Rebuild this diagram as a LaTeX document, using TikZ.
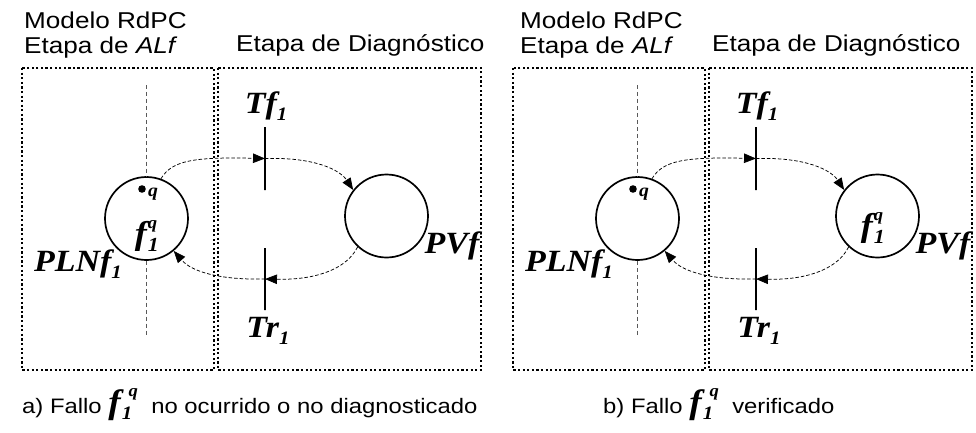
\documentclass[tikz,border=0pt]{standalone}
\usepackage{fontspec}
\setmainfont{Liberation Sans}[FakeStretch=1.14]
\newfontfamily\labfont{Liberation Serif}[FakeStretch=1.1]
\usetikzlibrary{arrows.meta}
\newcommand{\lbsub}[1]{\raisebox{-0.22em}{\fontsize{19}{19}\selectfont #1}}
\newcommand{\fqin}{{\labfont\bfseries\itshape\fontsize{33}{33}\selectfont f\kern1pt\rlap{\raisebox{-0.2em}{\fontsize{20}{20}\selectfont 1}}\raisebox{0.5em}{\fontsize{17}{17}\selectfont q}}}
\newcommand{\fqcap}{{\labfont\bfseries\itshape\fontsize{34}{34}\selectfont f\kern1pt\rlap{\raisebox{-0.2em}{\fontsize{19}{19}\selectfont 1}}\kern7pt\raisebox{0.48em}{\fontsize{17}{17}\selectfont q}}}
\tikzset{
  hdr/.style={anchor=base west, inner sep=0pt, font=\fontsize{23}{26}\selectfont},
  captxt/.style={anchor=base west, inner sep=0pt, font=\fontsize{21}{24}\selectfont},
  lab/.style={inner sep=0pt, font=\labfont\bfseries\itshape\fontsize{31}{31}\selectfont},
  frame/.style={draw=black, line width=1.1pt, dash pattern=on 2.2pt off 2.4pt},
  place/.style={circle, draw=black, line width=1.7pt, minimum size=83bp, inner sep=0pt},
  trans/.style={draw=black, line width=1.4pt, minimum width=0pt, inner sep=0pt, rectangle},
  arc/.style={draw=black, line width=0.75pt, dash pattern=on 3.5pt off 2pt, -{Triangle[length=12pt,width=9.5pt,fill=black]}},
  mirror/.style={draw=black!65, line width=0.9pt, dash pattern=on 4pt off 3pt},
  qlab/.style={inner sep=0pt, font=\labfont\bfseries\itshape\fontsize{18}{18}\selectfont},
}
\begin{document}
\begin{tikzpicture}[x=1bp,y=-1bp]
\useasboundingbox (0,0) rectangle (976,432);
% ================= panel a =================
\begin{scope}
\draw[frame] (22,68) rectangle (214,370);
\draw[frame] (218,68) rectangle (481,370);
\node[hdr] (ha1) at (24,28) {Modelo RdPC};
\node[hdr] (ha2) at (24,53) {Etapa de \textit{ALf}};
\node[hdr] (ha3) at (236,51) {Etapa de Diagnóstico};
\node[place] (pla) at (146.5,218.5) {};
\node[place] (pva) at (386.5,216) {};
\coordinate (mta) at (146.5,85);
\coordinate (mba) at (146.5,337);
\draw[mirror] (mta) -- (pla.north);
\draw[mirror] (pla.south) -- (mba);
\node[trans, minimum height=63bp] (tfa) at (265,158.5) {};
\node[trans, minimum height=62bp] (tra) at (265,279) {};
\node[lab] (tfla) at (266,106) {Tf\lbsub{1}};
\node[lab] (trla) at (268,331) {Tr\lbsub{1}};
\node[lab] (plla) at (78,264) {PLNf\lbsub{1}};
\node[lab] (pvla) at (452,246) {PVf};
\fill (142,189) circle (3.8bp);
\node[qlab] (qa) at (153,194) {q};
\node[inner sep=0pt] (fa) at (146,236) {\fqin};
\draw[arc] (pla.70) .. controls (172,160) and (195,157) .. (tfa.center);
\draw[arc] (tfa.center) .. controls (315,157) and (340,170) .. (pva.142);
\draw[arc] (pva.227) .. controls (345,272) and (310,280) .. (tra.center);
\draw[arc] (tra.center) .. controls (220,280) and (192,272) .. (pla.-50);
\node[captxt] (capa) at (22,413) {a) Fallo \fqcap\ \ no ocurrido o no diagnosticado};
\end{scope}
% ================= panel b =================
\begin{scope}
\draw[frame] (513,68) rectangle (705,370);
\draw[frame] (709,68) rectangle (972,370);
\node[hdr] (hb1) at (520,28) {Modelo RdPC};
\node[hdr] (hb2) at (520,53) {Etapa de \textit{ALf}};
\node[hdr] (hb3) at (712,51) {Etapa de Diagnóstico};
\node[place] (plb) at (637.5,218.5) {};
\node[place] (pvb) at (877.5,216) {};
\coordinate (mtb) at (637.5,85);
\coordinate (mbb) at (637.5,337);
\draw[mirror] (mtb) -- (plb.north);
\draw[mirror] (plb.south) -- (mbb);
\node[trans, minimum height=63bp] (tfb) at (756,158.5) {};
\node[trans, minimum height=62bp] (trb) at (756,279) {};
\node[lab] (tflb) at (757,106) {Tf\lbsub{1}};
\node[lab] (trlb) at (759,331) {Tr\lbsub{1}};
\node[lab] (pllb) at (569,264) {PLNf\lbsub{1}};
\node[lab] (pvlb) at (943,246) {PVf};
\fill (633,189) circle (3.8bp);
\node[qlab] (qb) at (644,194) {q};
\node[inner sep=0pt] (fb) at (872,228) {\fqin};
\draw[arc] (plb.70) .. controls (663,160) and (686,157) .. (tfb.center);
\draw[arc] (tfb.center) .. controls (806,157) and (831,170) .. (pvb.142);
\draw[arc] (pvb.227) .. controls (836,272) and (801,280) .. (trb.center);
\draw[arc] (trb.center) .. controls (711,280) and (683,272) .. (plb.-50);
\node[captxt] (capb) at (603,413) {b) Fallo \fqcap\ \ verificado};
\end{scope}
\end{tikzpicture}
\end{document}
